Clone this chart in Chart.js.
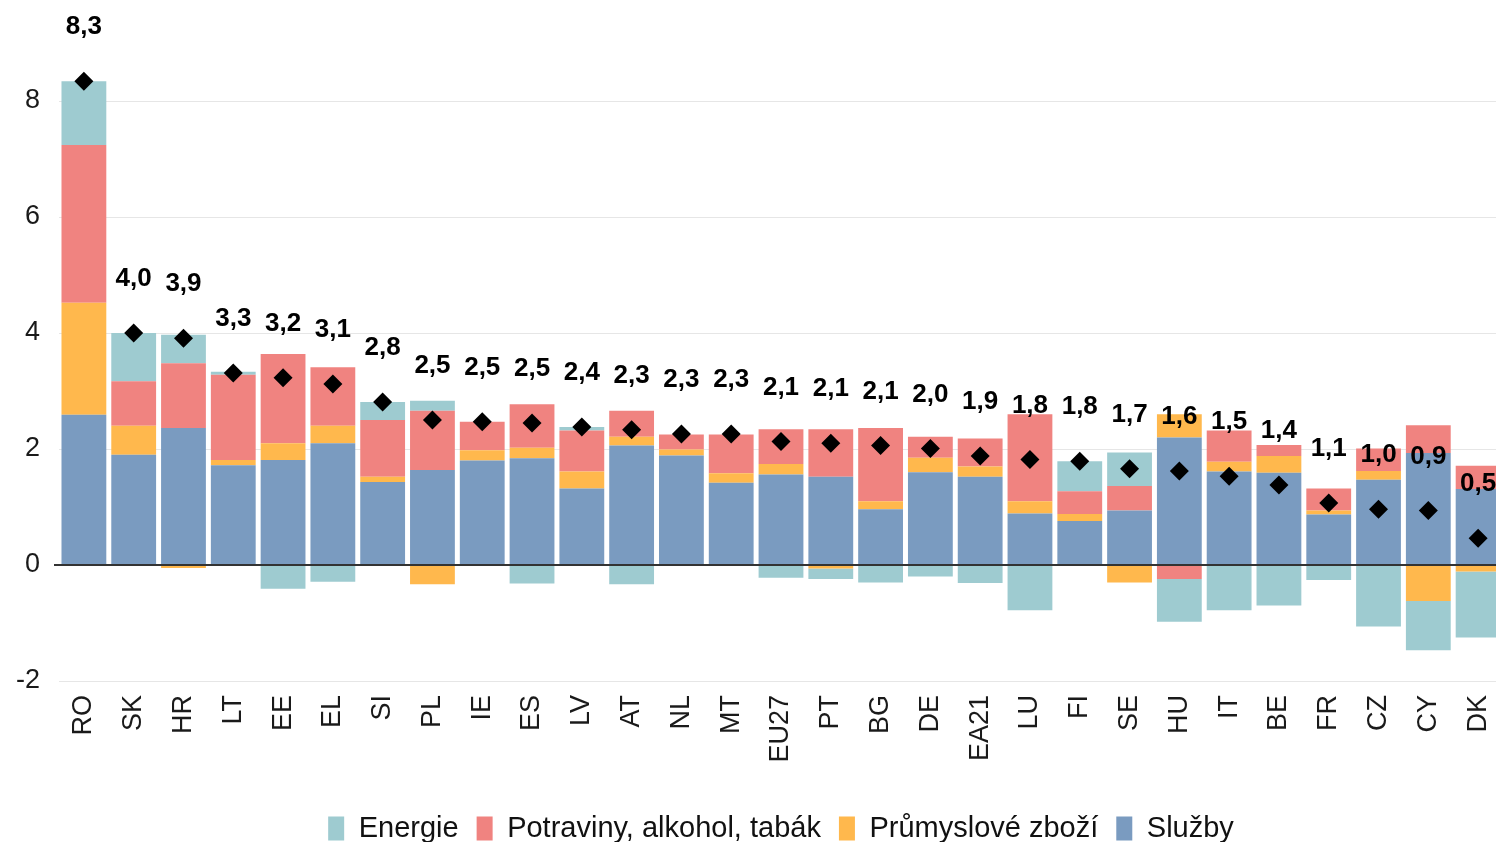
<!DOCTYPE html>
<html>
<head>
<meta charset="utf-8">
<script src="https://cdn.jsdelivr.net/npm/chart.js@4.4.1/dist/chart.umd.min.js"></script>
<style>
html,body{margin:0;padding:0;background:#fff;overflow:hidden}
#wrap{position:relative;width:1496px;height:842px;overflow:hidden;background:#fff}
#c{display:block;width:1562px;height:853px}
</style>
</head>
<body>
<div id="wrap"><canvas id="c" width="1562" height="853"></canvas></div>
<script>
const categories = ['RO','SK','HR','LT','EE','EL','SI','PL','IE','ES','LV','AT','NL','MT','EU27','PT','BG','DE','EA21','LU','FI','SE','HU','IT','BE','FR','CZ','CY','DK'];

const sluzby    = [2.59,1.90,2.36,1.72,1.81,2.10,1.43,1.64,1.80,1.84,1.32,2.06,1.89,1.42,1.56,1.52,0.96,1.60,1.52,0.89,0.76,0.94,2.20,1.61,1.59,0.87,1.47,1.93,1.31];
const prumysl   = [1.93,0.50,-0.05,0.09,0.29,0.30,0.09,-0.33,0.18,0.18,0.29,0.15,0.10,0.16,0.18,-0.06,0.14,0.25,0.18,0.21,0.12,-0.30,0.40,0.17,0.29,0.07,0.15,-0.62,-0.11];
const potraviny = [2.72,0.77,1.12,1.47,1.54,1.01,0.98,1.02,0.49,0.75,0.71,0.45,0.26,0.67,0.60,0.82,1.26,0.36,0.48,1.50,0.39,0.42,-0.24,0.54,0.19,0.38,0.39,0.48,0.40];
const energie   = [1.10,0.83,0.49,0.05,-0.41,-0.29,0.31,0.17,0,-0.32,0.06,-0.33,0,0,-0.22,-0.18,-0.30,-0.20,-0.31,-0.78,0.52,0.58,-0.74,-0.78,-0.70,-0.26,-1.06,-0.85,-1.14];

const totals = [8.34,4.00,3.91,3.31,3.23,3.12,2.81,2.50,2.47,2.45,2.38,2.33,2.26,2.26,2.13,2.10,2.06,2.01,1.88,1.82,1.79,1.66,1.62,1.53,1.38,1.07,0.96,0.94,0.46];
const totalLabels = ['8,3','4,0','3,9','3,3','3,2','3,1','2,8','2,5','2,5','2,5','2,4','2,3','2,3','2,3','2,1','2,1','2,1','2,0','1,9','1,8','1,8','1,7','1,6','1,5','1,4','1,1','1,0','0,9','0,5'];

const yTicks = [-2, 0, 2, 4, 6, 8];

const FONT = "'Liberation Sans', Arial, Helvetica, sans-serif";

const overlay = {
  id: 'overlay',
  afterLayout(chart) {
    const l = chart.legend;
    if (l) { l.left += 29.5; l.right += 29.5; }
  },
  afterDatasetsDraw(chart) {
    const ctx = chart.ctx;
    const area = chart.chartArea;
    const y0 = chart.scales.y.getPixelForValue(0);
    ctx.save();
    ctx.strokeStyle = '#333333';
    ctx.lineWidth = 2;
    ctx.beginPath();
    ctx.moveTo(area.left - 5, y0);
    ctx.lineTo(area.right, y0);
    ctx.stroke();
    const meta = chart.getDatasetMeta(0);
    ctx.fillStyle = '#000';
    ctx.font = 'bold 26px ' + FONT;
    ctx.textAlign = 'center';
    ctx.textBaseline = 'middle';
    meta.data.forEach((pt, i) => {
      ctx.fillText(totalLabels[i], pt.x, pt.y - 54);
    });
    ctx.restore();
  }
};

new Chart(document.getElementById('c'), {
  type: 'bar',
  data: {
    labels: categories,
    datasets: [
      { type: 'line', label: 'Celkem', data: totals, showLine: false, pointStyle: 'rectRot',
        pointRadius: 9.5, pointHoverRadius: 9.5, pointBackgroundColor: '#000', pointBorderColor: '#000',
        pointBorderWidth: 0, backgroundColor: '#000', borderColor: '#000', order: 0, stack: 'total' },
      { label: 'Služby', data: sluzby, backgroundColor: '#7A9BC0', order: 1, stack: 's' },
      { label: 'Průmyslové zboží', data: prumysl, backgroundColor: '#FFB84D', order: 1, stack: 's' },
      { label: 'Potraviny, alkohol, tabák', data: potraviny, backgroundColor: '#F08380', order: 1, stack: 's' },
      { label: 'Energie', data: energie, backgroundColor: '#9ECBD0', order: 1, stack: 's' }
    ]
  },
  options: {
    responsive: false,
    animation: false,
    layout: { padding: { top: 43, right: 59, left: 0, bottom: 0 } },
    datasets: { bar: { barPercentage: 0.9, categoryPercentage: 1.0 } },
    scales: {
      x: {
        stacked: true,
        grid: { display: false, drawTicks: false },
        border: { display: false },
        ticks: { font: { family: FONT, size: 27 }, color: '#1a1a1a', minRotation: 90, maxRotation: 90, padding: 14, autoSkip: false },
        afterFit: s => { s.height = 115; }
      },
      y: {
        stacked: true,
        min: -2,
        max: 9,
        grid: { color: c => (c.tick && c.tick.value === 0) ? 'rgba(0,0,0,0)' : '#e6e6e6', drawTicks: false, lineWidth: 1 },
        border: { display: false },
        ticks: { font: { family: FONT, size: 27 }, color: '#1a1a1a', padding: 19 },
        afterBuildTicks: s => { s.ticks = yTicks.map(v => ({ value: v })); },
        afterFit: s => { s.width = 59; }
      }
    },
    plugins: {
      legend: {
        position: 'bottom',
        reverse: true,
        labels: {
          filter: item => item.text !== 'Celkem',
          boxWidth: 16, boxHeight: 24, padding: 18,
          font: { family: FONT, size: 29 }, color: '#111'
        }
      },
      tooltip: { enabled: false }
    }
  },
  plugins: [overlay]
});
</script>
</body>
</html>
